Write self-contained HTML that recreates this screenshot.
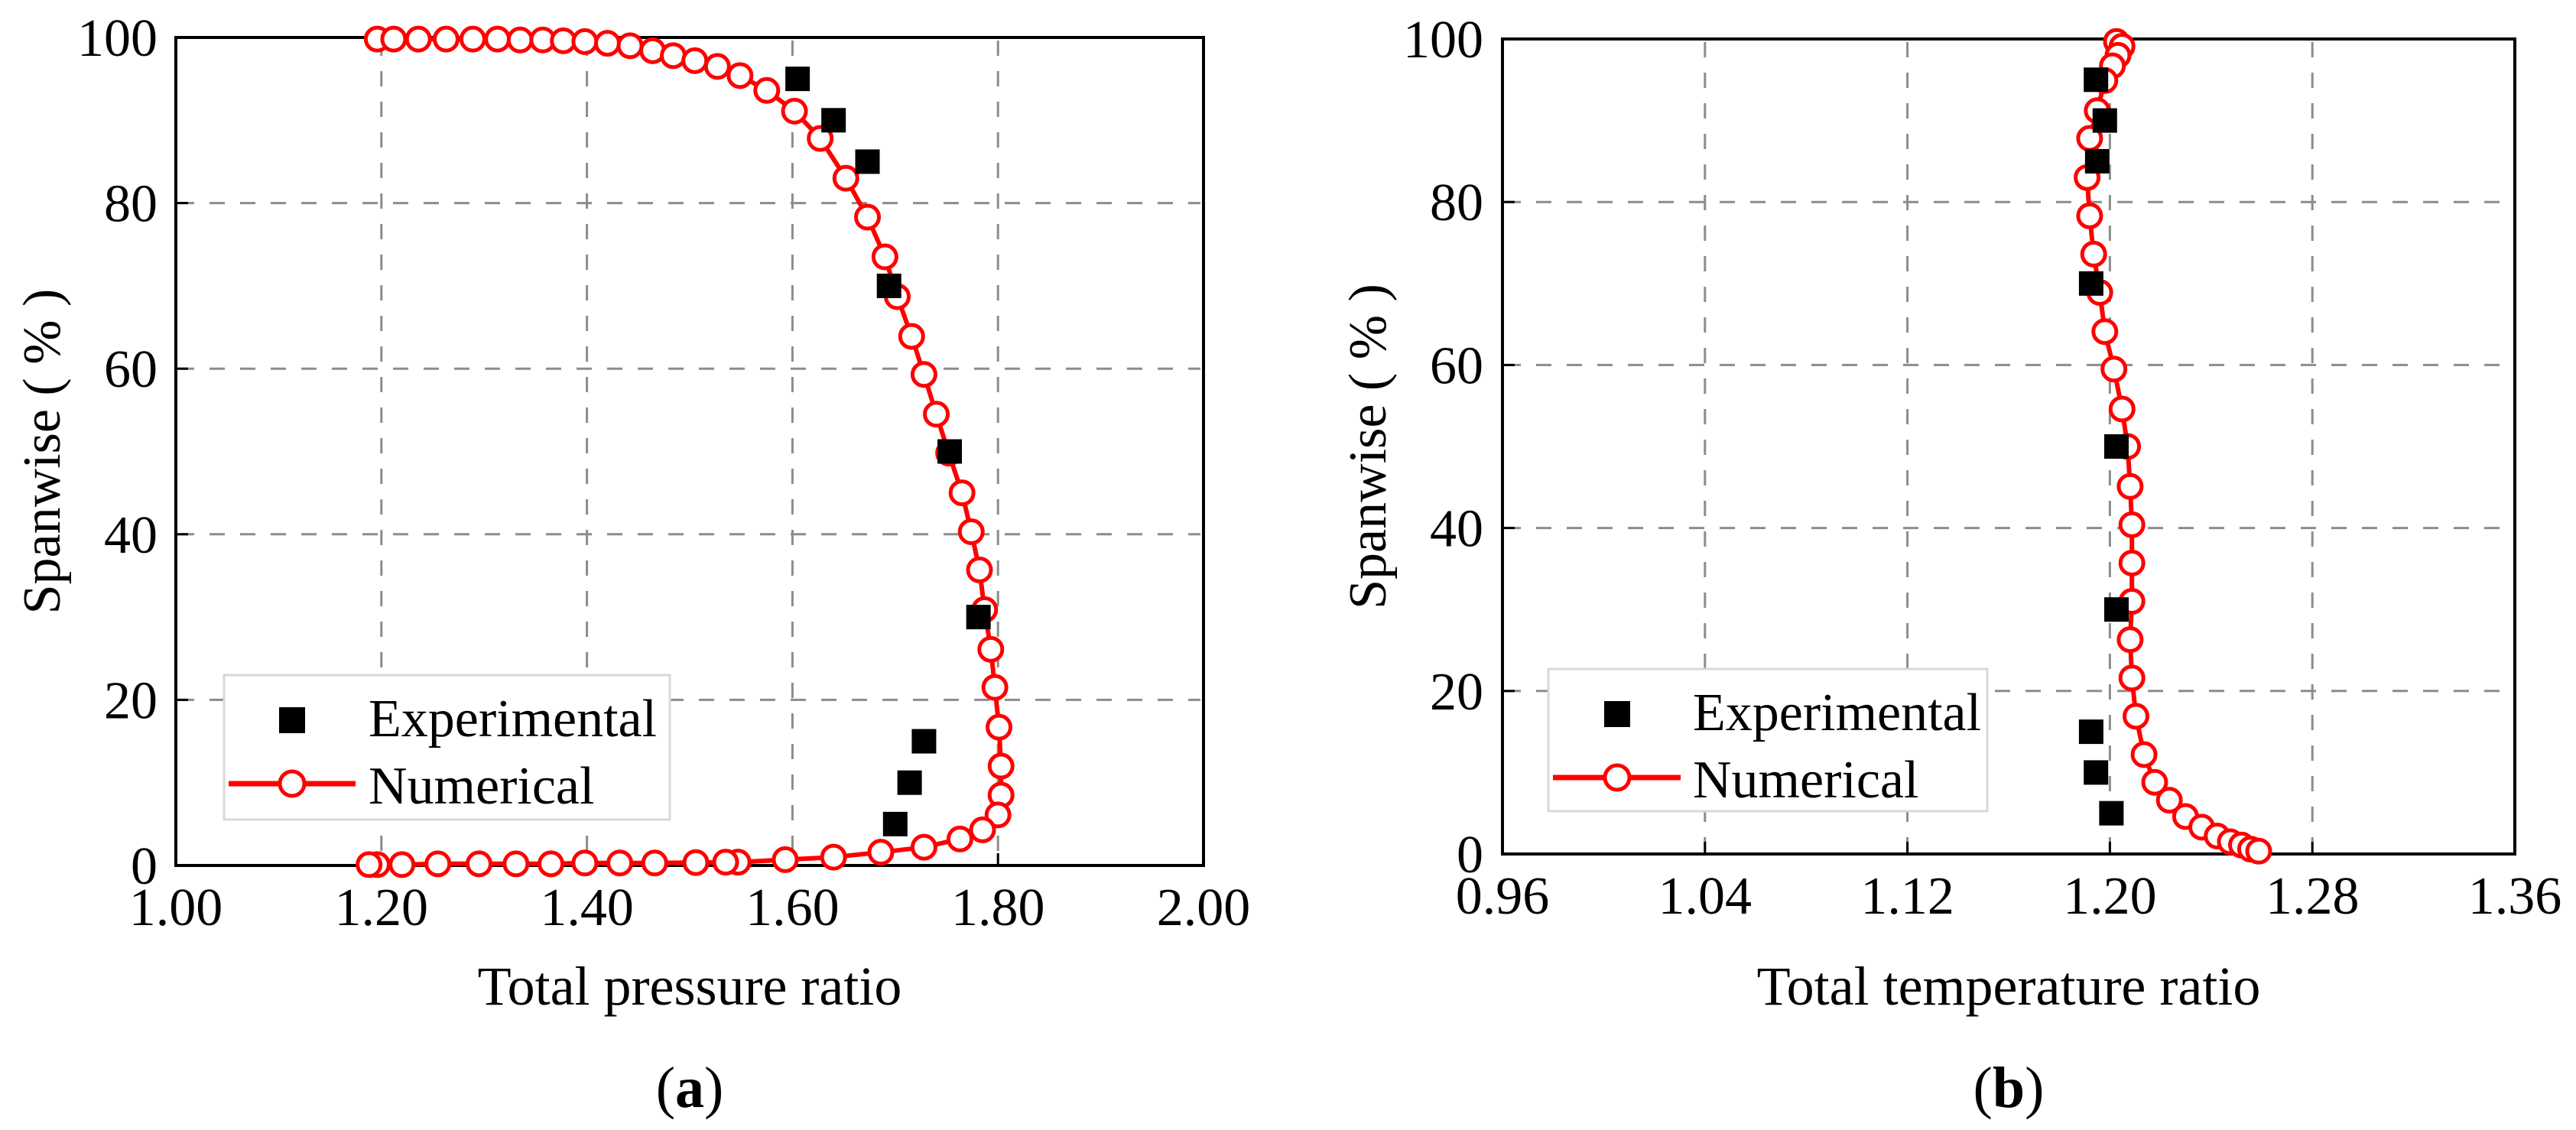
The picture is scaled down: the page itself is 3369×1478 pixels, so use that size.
<!DOCTYPE html>
<html><head><meta charset="utf-8"><style>
html,body{margin:0;padding:0;background:#fff;}
svg{display:block;font-family:"Liberation Serif",serif;}
</style></head><body>
<svg id="fig" width="3369" height="1478" viewBox="0 0 3369 1478" xmlns="http://www.w3.org/2000/svg"></svg>
<script>
// ---- Panel (a) data ----
const aExpX = [1.605,1.640,1.673,1.694,1.753,1.781,1.728,1.714,1.700];
const aExpY = [95,90,85,70,50,30,15,10,5];
const aNumX = [1.196,1.212,1.236,1.263,1.289,1.313,1.335,1.357,1.377,1.398,1.420,1.442,1.464,1.484,1.505,1.527,1.549,1.575,1.602,1.627,1.652,1.673,1.690,1.702,1.716,1.728,1.740,1.752,1.765,1.774,1.782,1.787,1.793,1.797,1.801,1.803,1.803,1.800,1.785,1.763,1.728,1.686,1.640,1.593,1.547,1.535,1.506,1.466,1.432,1.398,1.365,1.331,1.295,1.255,1.220,1.196,1.188];
const aNumY = [99.8,99.8,99.8,99.8,99.8,99.8,99.7,99.7,99.6,99.5,99.3,99.0,98.4,97.8,97.2,96.5,95.4,93.6,91.1,87.8,83.0,78.3,73.5,68.7,63.9,59.3,54.5,49.8,45.0,40.3,35.7,30.9,26.1,21.5,16.7,12.0,8.5,6.1,4.3,3.2,2.2,1.6,1.0,0.7,0.4,0.4,0.35,0.3,0.3,0.3,0.2,0.2,0.2,0.2,0.1,0.1,0.1];
const aXTicks = ["1.00","1.20","1.40","1.60","1.80","2.00"];
const aXTickVals = [1.0,1.2,1.4,1.6,1.8,2.0];
// ---- Panel (b) data ----
const bExpX = [1.1945,1.198,1.195,1.1926,1.2026,1.2026,1.1926,1.1945,1.2006];
const bExpY = [95,90,85,70,50,30,15,10,5];
const bNumX = [1.2026,1.2048,1.2032,1.201,1.198,1.195,1.192,1.191,1.192,1.1936,1.196,1.198,1.2016,1.2048,1.207,1.208,1.2087,1.2087,1.2087,1.208,1.2087,1.2103,1.2135,1.2177,1.2235,1.2299,1.2363,1.2424,1.2476,1.252,1.2556,1.2588];
const bNumY = [99.7,99.1,98.0,96.7,94.9,91.2,87.8,83.0,78.3,73.6,68.9,64.1,59.5,54.6,50.0,45.1,40.4,35.7,31.0,26.3,21.6,16.9,12.2,8.8,6.6,4.6,3.3,2.2,1.5,1.1,0.6,0.35];
const bXTicks = ["0.96","1.04","1.12","1.20","1.28","1.36"];
const bXTickVals = [0.96,1.04,1.12,1.20,1.28,1.36];
const yTicks = ["0","20","40","60","80","100"];
const yTickVals = [0,20,40,60,80,100];

const NS="http://www.w3.org/2000/svg";
const svg=document.getElementById('fig');
function mk(tag,attrs,parent){const e=document.createElementNS(NS,tag);for(const k in attrs)e.setAttribute(k,attrs[k]);(parent||svg).appendChild(e);return e;}

function panel(p){
  const g=mk('g',{});
  
  
  const sx=v=>p.x0+(v-p.xmin)/(p.xmax-p.xmin)*(p.x1-p.x0);
  const sy=v=>p.y0-(v/100)*(p.y0-p.y1);
  // grid
  p.xTickVals.forEach((v,i)=>{
    const x=sx(v);
    if(i>0&&i<p.xTickVals.length-1){
      const l=mk('line',{x1:x,x2:x,y1:p.y1+4,y2:p.y0-4,stroke:'#8c8c8c','stroke-width':3,'stroke-dasharray':'20 20'},g);
      
      
      mk('line',{x1:x,x2:x,y1:p.y0,y2:p.y0-16,stroke:'#000','stroke-width':3},g);
    }
    const t=mk('text',{x:x,y:p.y0+78,'font-size':70,'text-anchor':'middle',fill:'#000'},g);
    t.textContent=p.xTicks[i];
    
    
  });
  yTickVals.forEach((v,i)=>{
    const y=sy(v);
    if(i>0&&i<yTickVals.length-1){
      const l=mk('line',{x1:p.x0+4,x2:p.x1-4,y1:y,y2:y,stroke:'#8c8c8c','stroke-width':3,'stroke-dasharray':'20 20'},g);
      
      
      mk('line',{x1:p.x0,x2:p.x0+16,y1:y,y2:y,stroke:'#000','stroke-width':3},g);
    }
    const t=mk('text',{x:p.labelRight,y:y+24,'font-size':70,'text-anchor':'end',fill:'#000'},g);
    t.textContent=yTicks[i];
    
    
  });
  const fr=mk('rect',{x:p.x0,y:p.y1,width:p.x1-p.x0,height:p.y0-p.y1,fill:'none',stroke:'#000','stroke-width':4},g);
  
  
  // numerical line
  const pts=p.numX.map((v,i)=>sx(v).toFixed(1)+','+sy(p.numY[i]).toFixed(1)).join(' ');
  const pl=mk('polyline',{points:pts,fill:'none',stroke:'#ff0000','stroke-width':6,'stroke-linejoin':'round'},g);
  
  
  p.numX.forEach((v,i)=>{
    const c=mk('circle',{cx:sx(v),cy:sy(p.numY[i]),r:15,fill:'#fff',stroke:'#ff0000','stroke-width':5},g);
    
    
  });
  p.expX.forEach((v,i)=>{
    const r=mk('rect',{x:sx(v)-16,y:sy(p.expY[i])-16,width:32,height:32,fill:'#000'},g);
    
    
  });
  // legend
  const L=p.leg;
  const lg=mk('g',{},g);
  
  
  mk('rect',{x:L.x,y:L.y,width:L.w,height:L.h,fill:'#fff',stroke:'#d8d8d8','stroke-width':3},lg);
  mk('rect',{x:L.mx-17,y:L.y+42,width:34,height:34,fill:'#000'},lg);
  const t1=mk('text',{x:L.tx,y:L.y+80,'font-size':70,fill:'#000'},lg);t1.textContent='Experimental';
  
  
  mk('line',{x1:L.x+6,x2:L.mx+84-1,y1:L.y+142,y2:L.y+142,stroke:'#ff0000','stroke-width':7},lg);
  mk('circle',{cx:L.mx,cy:L.y+142,r:16,fill:'#fff',stroke:'#ff0000','stroke-width':5},lg);
  const t2=mk('text',{x:L.tx,y:L.y+168,'font-size':70,fill:'#000'},lg);t2.textContent='Numerical';
  
  
  // titles
  const xt=mk('text',{x:(p.x0+p.x1)/2,y:1314,'font-size':72,'text-anchor':'middle',fill:'#000'},g);
  xt.textContent=p.xTitle;
  
  
  const yt=mk('text',{x:0,y:0,'font-size':70,'text-anchor':'middle',fill:'#000',transform:`translate(${p.ytx},${(p.y0+p.y1)/2}) rotate(-90)`},g);
  yt.textContent='Spanwise ( % )';
  
  
  const cap=mk('text',{x:(p.x0+p.x1)/2,y:1448,'font-size':76,'text-anchor':'middle',fill:'#000'},g);
  cap.innerHTML='(<tspan font-weight="bold">'+p.cap+'</tspan>)';
  
  
}
panel({name:'panel-a',x0:230,x1:1574,y0:1132,y1:49,xmin:1.0,xmax:2.0,xTicks:aXTicks,xTickVals:aXTickVals,
  expX:aExpX,expY:aExpY,numX:aNumX,numY:aNumY,labelRight:206,ytx:78,xTitle:'Total pressure ratio',cap:'a',
  leg:{x:293,y:883,w:583,h:189,mx:382,tx:482}});
panel({name:'panel-b',x0:1965,x1:3289,y0:1117,y1:51,xmin:0.96,xmax:1.36,xTicks:bXTicks,xTickVals:bXTickVals,
  expX:bExpX,expY:bExpY,numX:bNumX,numY:bNumY,labelRight:1940,ytx:1812,xTitle:'Total temperature ratio',cap:'b',
  leg:{x:2025,y:875,w:574,h:186,mx:2115,tx:2214}});
</script>
</body></html>
